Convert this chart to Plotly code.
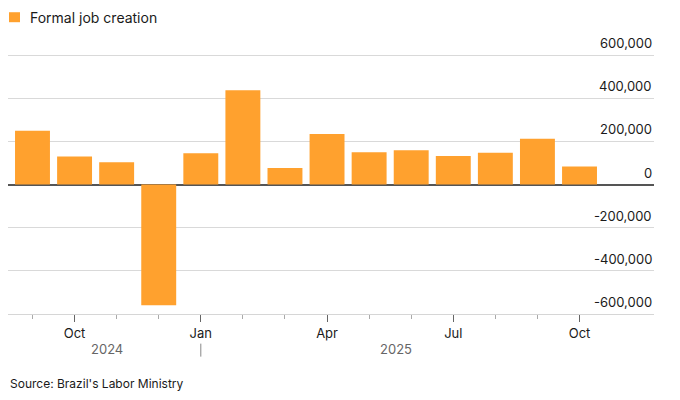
import plotly.graph_objects as go

months = ["Sep", "Oct", "Nov", "Dec", "Jan", "Feb", "Mar", "Apr", "May", "Jun", "Jul", "Aug", "Sep", "Oct"]
years = [2024, 2024, 2024, 2024, 2025, 2025, 2025, 2025, 2025, 2025, 2025, 2025, 2025, 2025]
jobs = [250000, 130000, 104000, -560000, 145000, 437000, 77000, 235000, 150000, 159000, 133000, 148000, 212000, 84000]
y_ticks = [-600000, -400000, -200000, 0, 200000, 400000, 600000]
major_idx = [1, 4, 7, 10, 13]

FONT = "Inter, Liberation Sans, Arial, sans-serif"
W, H = 680, 400
L, R, T, B = 8, 26, 52.85, 85.7
pw, ph = W - L - R, H - T - B

def px_x(p):
    return (p - L) / pw

def px_y(p):
    return (H - B - p) / ph

x = list(range(len(jobs)))

fig = go.Figure()
fig.add_trace(go.Bar(
    x=x, y=jobs, name="Formal job creation",
    marker=dict(color="#FFA12E", line=dict(width=0)),
    showlegend=False, hoverinfo="x+y",
))

fig.update_layout(
    width=W, height=H,
    margin=dict(l=L, r=R, t=T, b=B),
    plot_bgcolor="white", paper_bgcolor="white",
    bargap=0.17,
    font=dict(family=FONT, size=13, color="#1a1a1a"),
)

fig.update_xaxes(
    range=[-0.582, 14.77],
    tickmode="array",
    tickvals=major_idx,
    ticktext=[months[i] for i in major_idx],
    ticks="outside", ticklen=7, tickwidth=1, tickcolor="#666",
    minor=dict(tickmode="array", tickvals=x, ticks="outside", ticklen=4, tickwidth=1, tickcolor="#aaa"),
    showgrid=False, zeroline=False,
    showline=True, linecolor="#d6d6d6", linewidth=1,
    tickfont=dict(size=13, color="#1a1a1a"),
)

fig.update_yaxes(
    range=[-600000, 610000],
    side="right",
    tickmode="array",
    tickvals=y_ticks,
    showticklabels=False,
    ticks="",
    showgrid=True, gridcolor="#d9d9d9", gridwidth=1,
    zeroline=True, zerolinecolor="#555555", zerolinewidth=1.5,
    showline=False,
)

# y tick labels, right-aligned above gridlines
for v in y_ticks:
    fig.add_annotation(xref="paper", yref="y", x=1, y=v, text=f"{v:,}",
                       showarrow=False, xanchor="right", yanchor="middle",
                       yshift=12, font=dict(size=13, color="#1a1a1a"))

# legend swatch and label
fig.add_shape(type="rect", xref="paper", yref="paper",
              x0=px_x(9), x1=px_x(20), y0=px_y(22), y1=px_y(12),
              fillcolor="#FFA12E", line=dict(width=0))
fig.add_annotation(xref="paper", yref="paper", x=px_x(28), y=px_y(17),
                   text="Formal job creation", showarrow=False,
                   xanchor="left", yanchor="middle",
                   font=dict(size=14, color="#1a1a1a"))

# year labels
fig.add_annotation(xref="x", yref="paper", x=1.77, y=px_y(349), text=str(years[0]),
                   showarrow=False, xanchor="center", yanchor="middle",
                   font=dict(size=13, color="#666666"))
fig.add_annotation(xref="x", yref="paper", x=8.65, y=px_y(349), text=str(years[-1]),
                   showarrow=False, xanchor="center", yanchor="middle",
                   font=dict(size=13, color="#666666"))
fig.add_shape(type="line", xref="x", yref="paper",
              x0=years.index(2025), x1=years.index(2025), y0=px_y(344), y1=px_y(357),
              line=dict(color="#888888", width=1))

# source
fig.add_annotation(xref="paper", yref="paper", x=px_x(8), y=px_y(384),
                   text="Source: Brazil's Labor Ministry", showarrow=False,
                   xanchor="left", yanchor="middle",
                   font=dict(size=12, color="#1a1a1a"))

fig.write_html("out.html", config={"displayModeBar": False},
               post_script="document.body.style.margin='0';")
